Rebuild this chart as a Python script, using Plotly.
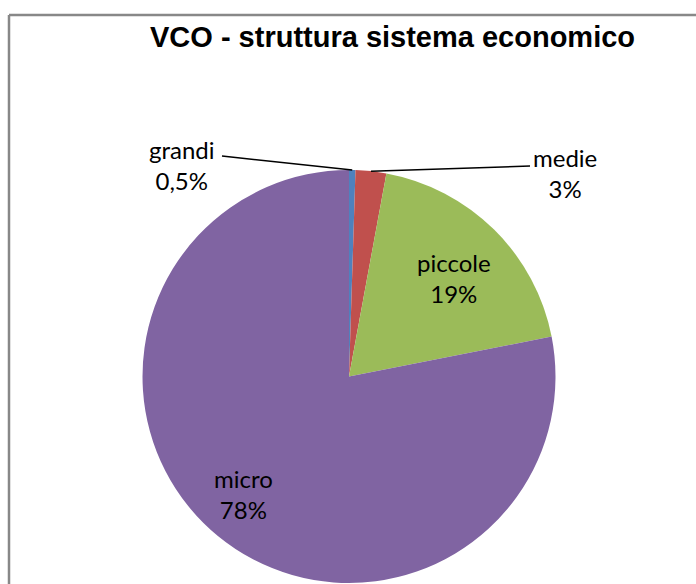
import math
import plotly.graph_objects as go

# ---- data ----
categories = ["grandi", "medie", "piccole", "micro"]
values = [0.5, 2.4, 19.0, 78.1]
pct_labels = ["0,5%", "3%", "19%", "78%"]
colors = ["#4F81BD", "#C0504D", "#9BBB59", "#8064A2"]
title_text = "VCO - struttura sistema economico"

# ---- layout constants (pixels) ----
W, H = 696, 584
CX, CY, R = 349.0, 376.5, 206.5

def px2paper(x, y):
    return x / W, 1 - y / H

dom_x = [(CX - R) / W, (CX + R) / W]
dom_y = [1 - (CY + R) / H, 1 - (CY - R) / H]

fig = go.Figure(go.Pie(
    labels=categories, values=values, sort=False, direction="clockwise",
    rotation=0, marker=dict(colors=colors, line=dict(width=0)),
    textinfo="none", hoverinfo="label+percent", showlegend=False,
    domain=dict(x=dom_x, y=dom_y),
))

total = sum(values)
cum = 0.0
mids = []
for v in values:
    mids.append((cum + v / 2) / total)
    cum += v

def edge_point(frac, rf=1.0):
    th = 2 * math.pi * frac
    return CX + rf * R * math.sin(th), CY - rf * R * math.cos(th)

font = dict(family="Lato", size=24, color="black")
annotations = []
shapes = []

# label placement (pixels); leader lines for the small slices
label_pos = {0: (182, 165), 1: (565, 173), 2: (454, 278), 3: (243, 494)}
leader_start = {0: (222, 156), 1: (530, 166)}

for i, (lx, ly) in label_pos.items():
    tx, ty = px2paper(lx, ly)
    annotations.append(dict(x=tx, y=ty, xref="paper", yref="paper",
                            text=f"{categories[i]}<br>{pct_labels[i]}",
                            showarrow=False, font=font,
                            xanchor="center", yanchor="middle", align="center"))

for i, (sx, sy) in leader_start.items():
    ex, ey = edge_point(mids[i])
    x0, y0 = px2paper(sx, sy)
    x1, y1 = px2paper(ex, ey)
    shapes.append(dict(type="line", xref="paper", yref="paper",
                       x0=x0, y0=y0, x1=x1, y1=y1,
                       line=dict(color="black", width=1.5)))

# title
tx, ty = px2paper(392.5, 37)
annotations.append(dict(x=tx, y=ty, xref="paper", yref="paper", text=f"<b>{title_text}</b>",
                        showarrow=False, xanchor="center", yanchor="middle",
                        font=dict(family="Liberation Sans", size=29, color="black")))

# chart frame (left and top edges visible)
fx, fy = px2paper(9, 15)
shapes.append(dict(type="line", xref="paper", yref="paper", x0=fx, y0=0, x1=fx, y1=fy,
                   line=dict(color="#888888", width=2.5)))
shapes.append(dict(type="line", xref="paper", yref="paper", x0=fx, y0=fy, x1=1.01, y1=fy,
                   line=dict(color="#888888", width=2.5)))

fig.update_layout(width=W, height=H, margin=dict(l=0, r=0, t=0, b=0),
                  paper_bgcolor="white", plot_bgcolor="white",
                  annotations=annotations, shapes=shapes)

fig.write_html("out.html", config={"displayModeBar": False},
               post_script="document.body.style.margin='0';document.body.style.overflow='hidden';")
